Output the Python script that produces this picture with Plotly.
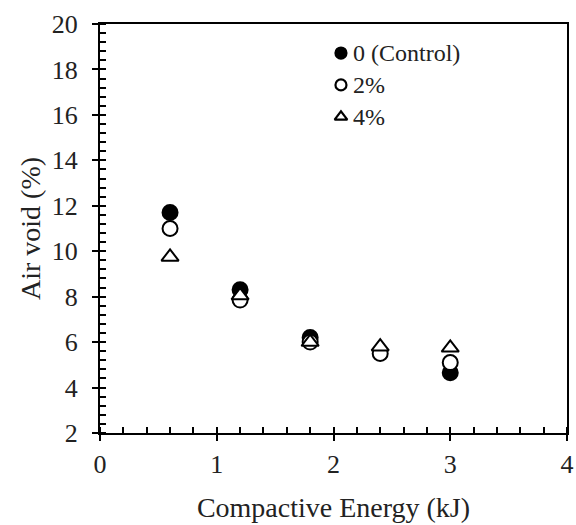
import plotly.graph_objects as go

energy = [0.6, 1.2, 1.8, 2.4, 3.0]
control = [11.7, 8.3, 6.2, None, 4.65]
pct2 = [11.0, 7.85, 6.0, 5.5, 5.1]
pct4 = [9.75, 8.05, 6.0, 5.8, 5.75]

series_names = ["0 (Control)", "2%", "4%"]
symbols = ["circle", "circle", "triangle-up"]
fills = ["black", "white", "white"]

font_family = "Liberation Serif"

fig = go.Figure()
for vals, name, sym, fill in zip([control, pct2, pct4], series_names, symbols, fills):
    fig.add_trace(go.Scatter(x=energy, y=vals, mode="markers", name=name, showlegend=False,
                             marker=dict(symbol=sym, size=15, color=fill,
                                         line=dict(color="black", width=2))))

# invisible trace to anchor overlay axes for crossing major ticks
fig.add_trace(go.Scatter(x=[0], y=[2], xaxis="x2", yaxis="y2", mode="markers",
                         marker=dict(opacity=0), showlegend=False, hoverinfo="skip"))

# manual legend (paper-like overlay axes 0..1)
leg_x = 0.516
leg_text_x = 0.538
leg_ys = [0.929, 0.851, 0.773]
for name, sym, fill, ly in zip(series_names, symbols, fills, leg_ys):
    fig.add_trace(go.Scatter(x=[leg_x], y=[ly], xaxis="x3", yaxis="y3", mode="markers",
                             showlegend=False, hoverinfo="skip",
                             marker=dict(symbol=sym, size=11, color=fill,
                                         line=dict(color="black", width=2.2))))
    fig.add_annotation(x=leg_text_x, y=ly, xref="paper", yref="paper", text=name,
                       showarrow=False, xanchor="left", yanchor="middle",
                       font=dict(size=24, family=font_family, color="#222"))

fig.update_layout(
    width=576, height=525,
    margin=dict(l=100, r=9, t=24, b=92),
    paper_bgcolor="white", plot_bgcolor="white",
    font=dict(family=font_family, color="#222", size=26),
    showlegend=False,
    xaxis=dict(range=[0, 4], dtick=1, tick0=0, ticks="outside", ticklen=6, tickwidth=2,
               tickcolor="black", showline=True, linecolor="black", linewidth=2,
               mirror=True, showgrid=False, zeroline=False, automargin=False,
               tickfont=dict(size=26, family=font_family), ticklabelstandoff=1,
               title=dict(text="Compactive Energy (kJ)", font=dict(size=28, family=font_family), standoff=19),
               minor=dict(dtick=0.2, tick0=0, ticks="inside", ticklen=6, tickwidth=2,
                          tickcolor="black", showgrid=False)),
    yaxis=dict(range=[2, 20], dtick=2, tick0=2, ticks="outside", ticklen=6, tickwidth=2,
               tickcolor="black", showline=True, linecolor="black", linewidth=2,
               mirror=True, showgrid=False, zeroline=False, automargin=False,
               tickfont=dict(size=26, family=font_family), ticklabelstandoff=9,
               title=dict(text="Air void (%)", font=dict(size=28, family=font_family), standoff=3),
               minor=dict(dtick=0.4, tick0=2, ticks="inside", ticklen=6, tickwidth=2,
                          tickcolor="black", showgrid=False)),
    xaxis2=dict(overlaying="x", matches="x", range=[0, 4], dtick=1, tick0=0,
                ticks="inside", ticklen=6, tickwidth=2, tickcolor="black",
                showticklabels=False, showgrid=False, zeroline=False, showline=False,
                side="bottom"),
    yaxis2=dict(overlaying="y", matches="y", range=[2, 20], dtick=2, tick0=2,
                ticks="inside", ticklen=6, tickwidth=2, tickcolor="black",
                showticklabels=False, showgrid=False, zeroline=False, showline=False,
                side="left"),
    xaxis3=dict(overlaying="x", range=[0, 1], visible=False, fixedrange=True),
    yaxis3=dict(overlaying="y", range=[0, 1], visible=False, fixedrange=True),
)

fig.write_html("out.html")
